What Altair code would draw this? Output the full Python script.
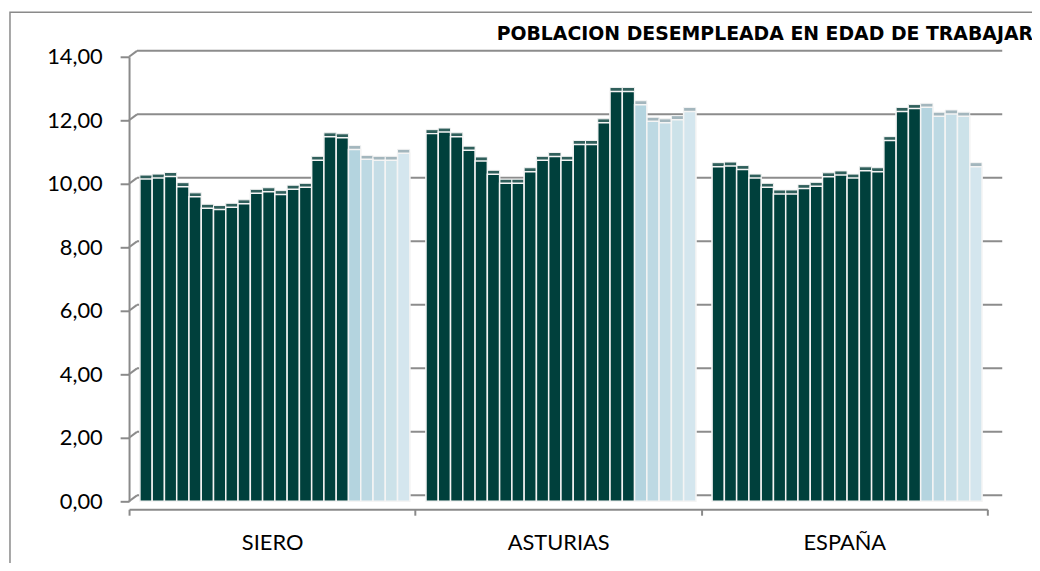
import altair as alt
import pandas as pd

TITLE = "POBLACION DESEMPLEADA EN EDAD DE TRABAJAR"
REGIONS = ["SIERO", "ASTURIAS", "ESPAÑA"]
PERIODS = list(range(1, 23))

SIERO = [10.15, 10.18, 10.23, 9.91, 9.59, 9.23, 9.19, 9.26, 9.37, 9.70, 9.75,
         9.66, 9.83, 9.89, 10.74, 11.48, 11.45, 11.08, 10.77, 10.74, 10.74, 10.96]
ASTURIAS = [11.58, 11.63, 11.48, 11.06, 10.72, 10.30, 10.02, 10.02, 10.38, 10.74, 10.86,
            10.74, 11.24, 11.24, 11.92, 12.91, 12.91, 12.49, 11.97, 11.92, 12.02, 12.28]
ESPANA = [10.54, 10.56, 10.45, 10.18, 9.89, 9.68, 9.68, 9.85, 9.92, 10.22, 10.28,
          10.18, 10.41, 10.38, 11.36, 12.28, 12.37, 12.41, 12.13, 12.20, 12.13, 10.54]

Y_TICKS = [0, 2, 4, 6, 8, 10, 12, 14]

FRONT_COLORS = ["#00403c"] * 17 + ["#b4d4df", "#bdd9e3", "#c5dde6", "#cce2e9", "#d4e6ee"]
DEPTH_COLORS = ["#2f5f5b"] * 17 + ["#a3b6bd"] * 5

rows = []
for reg, vals in zip(REGIONS, [SIERO, ASTURIAS, ESPANA]):
    for p, v in zip(PERIODS, vals):
        rows.append({"region": reg, "period": p, "value": v})
df = pd.DataFrame(rows)
grid_df = pd.DataFrame({"value": Y_TICKS})
title_df = pd.DataFrame({"t": [TITLE]})

W, H = 865, 448

x_enc = alt.X(
    "region:N", sort=REGIONS,
    scale=alt.Scale(paddingInner=0, paddingOuter=0),
    axis=alt.Axis(title=None, domainColor="#8a8a8a", domainWidth=2, offset=8,
                  tickColor="#8a8a8a", tickWidth=2, tickSize=6, tickBand="extent",
                  labelFont="Lato", labelFontSize=22, labelColor="#000000",
                  labelPadding=18, labelAngle=0),
)
xo_enc = alt.XOffset("period:O", scale=alt.Scale(paddingInner=0, paddingOuter=0.66, align=0.67))
y_axis = alt.Axis(title=None, values=Y_TICKS, grid=False,
                  labelExpr="replace(format(datum.value, '.2f'), '.', ',')",
                  domainColor="#8a8a8a", domainWidth=2, tickColor="#8a8a8a",
                  tickWidth=2, tickSize=9, labelPadding=18, labelFont="Lato",
                  labelFontSize=22, labelColor="#000000")
y_scale = alt.Scale(domain=[0, 14], nice=False, zero=True)

frame = alt.Chart(title_df).mark_rect(fill="transparent", stroke="#8a8a8a", strokeWidth=1.5).encode(
    x=alt.value(-120), x2=alt.value(1000), y=alt.value(-45), y2=alt.value(600)
)

grid = alt.Chart(grid_df).mark_rule(color="#8c8c8c", strokeWidth=2, yOffset=-6).encode(
    x=alt.value(8), x2=alt.value(880),
    y=alt.Y("value:Q", scale=y_scale, axis=y_axis),
)
grid_diag = alt.Chart(grid_df).mark_rule(color="#8c8c8c", strokeWidth=2, y2Offset=-6).encode(
    x=alt.value(0), x2=alt.value(8),
    y=alt.Y("value:Q", scale=y_scale, axis=y_axis), y2="value:Q",
)

depth = alt.Chart(df).mark_bar(xOffset=4, yOffset=-4, stroke="#f4f4f4", strokeWidth=1).encode(
    x=x_enc, xOffset=xo_enc,
    y=alt.Y("value:Q", scale=y_scale, axis=y_axis),
    color=alt.Color("period:O", scale=alt.Scale(domain=PERIODS, range=DEPTH_COLORS), legend=None),
)

front = alt.Chart(df).mark_bar(stroke="#f4f4f4", strokeWidth=1.5).encode(
    x=x_enc, xOffset=xo_enc,
    y=alt.Y("value:Q", scale=y_scale, axis=y_axis),
    color=alt.Color("period:O", scale=alt.Scale(domain=PERIODS, range=FRONT_COLORS), legend=None),
)

title = alt.Chart(title_df).mark_text(
    align="right", baseline="alphabetic", font="DejaVu Sans", fontWeight="bold",
    fontSize=19, color="#000000"
).encode(x=alt.value(911), y=alt.value(-17), text="t:N")

chart = alt.layer(frame, grid, grid_diag, depth, front, title).resolve_scale(
    color="independent"
).properties(
    width=W, height=H,
    autosize=alt.AutoSizeParams(type="none"),
    padding={"left": 122, "top": 47, "right": 45, "bottom": 60},
    background="#ffffff",
).configure_view(stroke=None)

chart.save("out.html", embed_options={"renderer": "svg", "actions": False})
